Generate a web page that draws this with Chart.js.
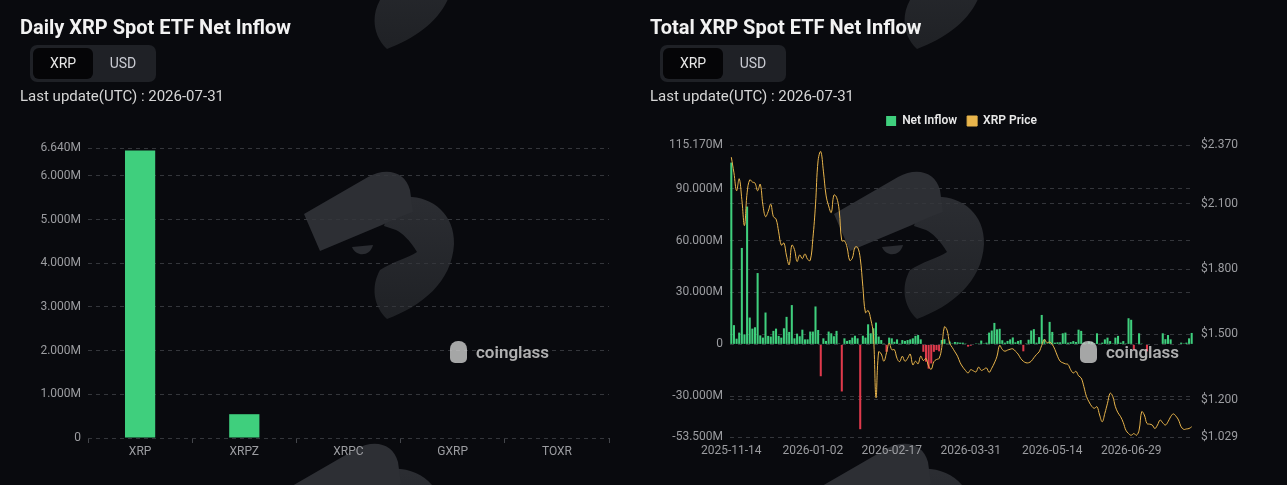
<!DOCTYPE html>
<html>
<head>
<meta charset="utf-8">
<script src="https://cdn.jsdelivr.net/npm/chart.js@4.4.1/dist/chart.umd.min.js"></script>
<style>
  html, body { margin: 0; padding: 0; background: #090a0e; width: 1287px; height: 485px; overflow: hidden; font-family: Roboto, sans-serif; }
  #bg { position: absolute; left: 0; top: 0; }
  .title { position: absolute; top: 15px; font: 700 20px Roboto, sans-serif; line-height: 24px; color: #f2f2f2; }
  .toggle { position: absolute; top: 45px; width: 126px; height: 37px; background: #1f2126; border-radius: 7px; }
  .toggle div { position: absolute; top: 3px; width: 60px; height: 31px; text-align: center; font: 14px Roboto, sans-serif; line-height: 31px; }
  .toggle .on { left: 3px; background: #050507; border-radius: 6px; color: #e8e8e8; }
  .toggle .off { left: 63px; color: #c9cbd2; }
  .upd { position: absolute; top: 87px; font: 15px Roboto, sans-serif; line-height: 18px; color: #d6d6d6; }
  .box { position: absolute; }
  .wm { position: absolute; top: 340px; height: 24px; pointer-events: none; }
  .wm span { position: absolute; left: 28px; top: 0; font: 600 17px Roboto, sans-serif; line-height: 24px; color: rgba(205, 205, 205, 0.85); }
  .wm i { position: absolute; left: 2px; top: 1px; width: 17px; height: 22px; background: rgba(205, 205, 205, 0.8); border-radius: 8px 8px 5px 5px; }
</style>
</head>
<body>

<canvas id="bg" width="1287" height="485"></canvas>

<div class="title" style="left:20px">Daily XRP Spot ETF Net Inflow</div>
<div class="toggle" style="left:30px"><div class="on">XRP</div><div class="off">USD</div></div>
<div class="upd" style="left:20px">Last update(UTC) : 2026-07-31</div>
<div class="box" style="left:20px; top:130px; width:600px; height:340px"><canvas id="daily"></canvas></div>
<div class="wm" style="left:448px"><i></i><span>coinglass</span></div>

<div class="title" style="left:650px">Total XRP Spot ETF Net Inflow</div>
<div class="toggle" style="left:660px"><div class="on">XRP</div><div class="off">USD</div></div>
<div class="upd" style="left:650px">Last update(UTC) : 2026-07-31</div>
<div class="box" style="left:650px; top:105px; width:637px; height:365px"><canvas id="total"></canvas></div>
<div class="wm" style="left:1078px"><i></i><span>coinglass</span></div>

<script>
// daily chart (values in millions of XRP)
var etfTickers = ["XRP", "XRPZ", "XRPC", "GXRP", "TOXR"];
var dailyInflow = [6.58, 0.545, 0, 0, 0];
var dailyTicks = [0, 1, 2, 3, 4, 5, 6, 6.64];

// total chart: one entry per trading day, 2025-11-14 .. 2026-07-31
var firstDay = "2025-11-14";
var lastDay = "2026-07-31";
var closedDays = ["2025-11-27", "2025-12-24", "2025-12-25", "2026-01-01", "2026-01-19",
  "2026-02-16", "2026-04-03", "2026-05-25", "2026-06-19", "2026-07-03"];
var dateTicks = ["2025-11-14", "2026-01-02", "2026-02-17", "2026-03-31", "2026-05-14", "2026-06-29"];

// net inflow, millions of XRP
var netInflow = [
  105, 11.1, 3.3, 6.8, 55.7, 5.8, 79.6, 15.5, 9.1, 9.9,
  41.2, 5.2, 3.9, 18.4, 4.9, 4.5, 7.8, 9.1, 4.9, 3.9,
  9.3, 15.9, 7.2, 22.7, 3.5, 6.2, 4.7, 8.5, 2.9, 2.9,
  7.4, 7.4, 21.9, 8.3, -18.4, 3.5, 2, 7.4, 6.4, 4.7,
  7.8, 0.5, -27.2, 3.5, 2, 2.5, 3.9, 5, 3.5, -49,
  5, 3.9, 11.6, 6.4, 9.3, 12.6, 4.5, 2.5, 0.5, -4.3,
  3.9, 3.5, 1.5, 2.9, 0.5, 2.5, 2, 2.5, 2.9, 3.5,
  4.9, 5.4, 2.9, -4.3, -10, -14, -11, -4.3, -3.3, -4,
  2.5, 3, 0.5, 1.6, 0.5, 1.4, 1.2, 1, 1, 0.5,
  -1.3, -0.8, 0.3, 0.5, 0.5, 2.2, 0.5, 1, 6.8, 8,
  12.4, 8.7, 9, 2.4, 1, 2, 2.9, 4, 1.2, 2,
  2.5, -4, 0.5, 2.7, 8, 8.8, 1, 4.2, 17, 2.9,
  0.5, 13, 7.2, 1, 1.2, 1.2, 6.4, 6.8, 1, 1.3,
  1.9, 1.4, 8.5, 7.8, 1, 0.5, 1.5, 1.4, 0.5, 6.4,
  0.5, 1, 2.9, 3.9, 1.9, 0.5, 3.9, 4.9, 1, 1.9,
  0.5, 15.1, 14.2, -3, 0.5, 6.4, 0.5, 0.3, -4, 0.3,
  0, 0, 0.3, 0.3, 6.4, 3, 5.4, 2.9, 0, 0.3,
  0, 1, 0.5, 1, 3.5, 6.6
];

// XRP price, USD
var xrpPrice = [
  2.314, 2.242, 2.16, 2.215, 2.12, 2.0, 2.15, 2.21, 2.20, 2.195,
  2.16, 2.19, 2.095, 2.041, 2.064, 2.098, 2.041, 2.03, 1.971, 1.91,
  1.92, 1.86, 1.82, 1.91, 1.89, 1.835, 1.865, 1.848, 1.87, 1.845,
  1.84, 1.94, 2.095, 2.30, 2.34, 2.25, 2.14, 2.09, 2.06, 2.14,
  2.13, 2.07, 1.93, 1.93, 1.90, 1.84, 1.85, 1.90, 1.90, 1.85,
  1.72, 1.60, 1.61, 1.57, 1.50, 1.21, 1.42, 1.41, 1.377, 1.416,
  1.46, 1.43, 1.43, 1.39, 1.375, 1.40, 1.377, 1.39, 1.41, 1.36,
  1.377, 1.365, 1.40, 1.38, 1.39, 1.354, 1.34, 1.375, 1.385, 1.39,
  1.44, 1.535, 1.52, 1.46, 1.44, 1.42, 1.40, 1.37, 1.35, 1.335,
  1.323, 1.338, 1.333, 1.328, 1.35, 1.335, 1.34, 1.346, 1.326, 1.345,
  1.369, 1.40, 1.45, 1.431, 1.423, 1.428, 1.432, 1.434, 1.423, 1.41,
  1.39, 1.377, 1.37, 1.37, 1.377, 1.393, 1.408, 1.42, 1.45, 1.477,
  1.462, 1.465, 1.454, 1.431, 1.40, 1.377, 1.37, 1.365, 1.362, 1.338,
  1.323, 1.331, 1.31, 1.30, 1.261, 1.215, 1.19, 1.17, 1.161, 1.168,
  1.13, 1.099, 1.138, 1.184, 1.23, 1.215, 1.168, 1.14, 1.122, 1.095,
  1.06, 1.045, 1.037, 1.045, 1.037, 1.06, 1.145, 1.13, 1.091, 1.088,
  1.084, 1.068, 1.084, 1.107, 1.094, 1.084, 1.099, 1.122, 1.135, 1.125,
  1.107, 1.076, 1.064, 1.066, 1.068, 1.076
];
var inflowTicks = [-53.5, -30, 0, 30, 60, 90, 115.17];
var priceTicks = [1.029, 1.2, 1.5, 1.8, 2.1, 2.37];

var GREEN = "#3fcf7d";
var RED = "#e03a4c";
var YELLOW = "#e9b54c";
var GRID = "#34363b";
var TICK = "#9c9da1";

// faint coinglass watermark logos behind the charts
function drawLogo(ctx, dx, dy) {
    ctx.save();
    ctx.translate(dx, dy);
    // round lobe
    var g = ctx.createLinearGradient(0, 200, 0, 320);
    g.addColorStop(0, "#2b2d32");
    g.addColorStop(1, "#1f2125");
    ctx.fillStyle = g;
    ctx.beginPath();
    ctx.moveTo(392, 199);
    ctx.bezierCurveTo(422, 190, 455, 208, 454, 244);
    ctx.bezierCurveTo(452, 282, 422, 306, 387, 319);
    ctx.bezierCurveTo(373, 306, 371, 286, 380, 270);
    ctx.bezierCurveTo(392, 262, 408, 258, 417, 252);
    ctx.bezierCurveTo(410, 240, 402, 233, 396, 230);
    ctx.lineTo(384, 226);
    ctx.closePath();
    ctx.fill();
    // band
    ctx.fillStyle = "#2d2f34";
    ctx.beginPath();
    ctx.moveTo(304, 214);
    ctx.lineTo(368, 177);
    ctx.bezierCurveTo(386, 167, 405, 171, 410, 190);
    ctx.lineTo(413, 212);
    ctx.bezierCurveTo(402, 216, 392, 220, 382, 225);
    ctx.lineTo(320, 251);
    ctx.closePath();
    ctx.fill();
    // eye
    ctx.fillStyle = "#2a2c31";
    ctx.beginPath();
    ctx.moveTo(352, 247);
    ctx.bezierCurveTo(356, 257, 370, 257, 373, 245);
    ctx.closePath();
    ctx.fill();
    ctx.restore();
}
var bg = document.getElementById("bg").getContext("2d");
[[0, 0], [0, -270], [-12, 272], [530, 0], [530, -270], [518, 272]].forEach(function(o) {
    drawLogo(bg, o[0], o[1]);
});

function tradingDays(from, to, closed) {
    var out = [];
    var d = new Date(from + "T00:00:00Z");
    var end = new Date(to + "T00:00:00Z");
    while (d <= end) {
        var s = d.toISOString().slice(0, 10);
        var wd = d.getUTCDay();
        if (wd !== 0 && wd !== 6 && closed.indexOf(s) < 0) out.push(s);
        d.setUTCDate(d.getUTCDate() + 1);
    }
    return out;
}
var tradeDates = tradingDays(firstDay, lastDay, closedDays);

function fmtM(v) {
    return v === 0 ? "0" : v.toFixed(3) + "M";
}

Chart.defaults.font.family = "Roboto, sans-serif";
Chart.defaults.font.size = 12;
Chart.defaults.color = TICK;

var dailyChart = new Chart(document.getElementById("daily").getContext("2d"), {
    type: "bar",
    data: {
        labels: etfTickers,
        datasets: [{
            label: "Net Inflow",
            data: dailyInflow,
            backgroundColor: GREEN,
            barPercentage: 0.29,
            categoryPercentage: 1
        }]
    },
    options: {
        responsive: true,
        maintainAspectRatio: false,
        animation: false,
        layout: { padding: { top: 18, right: 11, left: 0, bottom: 0 } },
        plugins: { legend: { display: false }, tooltip: { enabled: false } },
        scales: {
            x: {
                grid: { display: true, drawOnChartArea: false, drawTicks: true, tickLength: 5, color: "#44464b" },
                border: { display: false },
                ticks: { color: TICK, padding: 2 },
                afterFit: function(s) { s.height = 32; }
            },
            y: {
                min: 0,
                max: 6.64,
                afterBuildTicks: function(s) { s.ticks = dailyTicks.map(function(v) { return { value: v }; }); },
                afterFit: function(s) { s.width = 68; },
                ticks: { color: TICK, padding: 7, callback: fmtM },
                grid: { color: GRID, drawTicks: false },
                border: { display: false, dash: [4, 4] }
            }
        }
    }
});

// extra space between the legend and the plot
var legendGap = {
    id: "legendGap",
    beforeInit: function(chart) {
        var fit = chart.legend.fit;
        chart.legend.fit = function() {
            fit.bind(chart.legend)();
            this.height += 8;
        };
    }
};

var totalChart = new Chart(document.getElementById("total").getContext("2d"), {
    data: {
        labels: tradeDates,
        datasets: [{
            type: "bar",
            label: "Net Inflow",
            data: netInflow,
            yAxisID: "y",
            backgroundColor: netInflow.map(function(v) { return v >= 0 ? GREEN : RED; }),
            barPercentage: 0.78,
            categoryPercentage: 1,
            order: 2
        }, {
            type: "line",
            label: "XRP Price",
            data: xrpPrice,
            yAxisID: "y1",
            borderColor: YELLOW,
            backgroundColor: YELLOW,
            borderWidth: 1,
            pointRadius: 0,
            tension: 0.4,
            order: 1
        }]
    },
    options: {
        responsive: true,
        maintainAspectRatio: false,
        animation: false,
        layout: { padding: 0 },
        plugins: {
            tooltip: { enabled: false },
            legend: {
                fullSize: false,
                labels: {
                    boxWidth: 10,
                    boxHeight: 10,
                    padding: 10,
                    color: "#e8e8e8",
                    font: { size: 12, weight: "600" },
                    sort: function(a, b) { return a.datasetIndex - b.datasetIndex; }
                }
            }
        },
        scales: {
            x: {
                grid: { display: false, drawTicks: false },
                border: { display: false },
                ticks: {
                    autoSkip: false,
                    maxRotation: 0,
                    color: TICK,
                    padding: 7,
                    callback: function(v) {
                        var l = this.getLabelForValue(v);
                        return dateTicks.indexOf(l) >= 0 ? l : "";
                    }
                },
                afterFit: function(s) { s.height = 33; }
            },
            y: {
                position: "left",
                min: -53.5,
                max: 115.17,
                afterBuildTicks: function(s) { s.ticks = inflowTicks.map(function(v) { return { value: v }; }); },
                afterFit: function(s) { s.width = 80; },
                ticks: { color: TICK, padding: 7, callback: fmtM },
                grid: { color: GRID, drawTicks: false },
                border: { display: false, dash: [4, 4] }
            },
            y1: {
                position: "right",
                min: 1.029,
                max: 2.37,
                afterBuildTicks: function(s) { s.ticks = priceTicks.map(function(v) { return { value: v }; }); },
                afterFit: function(s) { s.width = 94; },
                ticks: { color: TICK, padding: 8, callback: function(v) { return "$" + v.toFixed(3); } },
                grid: { color: GRID, drawTicks: false },
                border: { display: false, dash: [4, 4] }
            }
        }
    },
    plugins: [legendGap]
});
</script>
</body>
</html>
